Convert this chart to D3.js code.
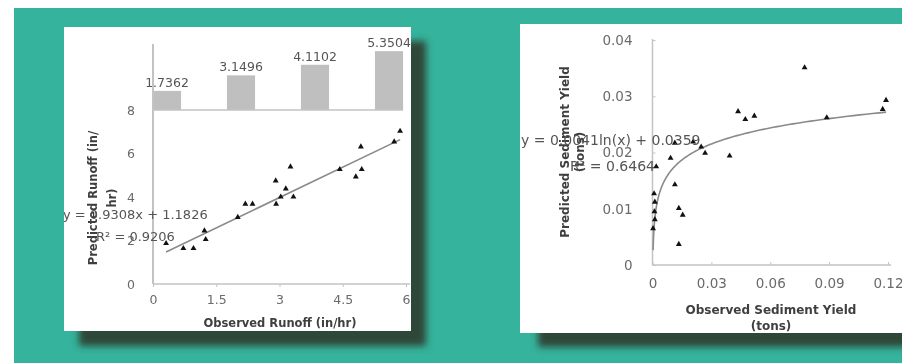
<!DOCTYPE html>
<html><head><meta charset="utf-8">
<script src="https://cdn.jsdelivr.net/npm/d3@7"></script>
<style>html,body{margin:0;padding:0;background:#fff;}svg{display:block;filter:blur(0.5px);}</style>
</head><body>
<svg id="c" width="902" height="363"></svg>
<script>
// ---- data ----
const barCategories = ["1", "2", "3", "4"];
const barValues = [1.7362, 3.1496, 4.1102, 5.3504];

const runoffObserved  = [0.31,0.72,0.96,1.22,1.25,2.01,2.19,2.36,2.91,2.92,3.03,3.15,3.26,3.33,4.43,4.81,4.93,4.95,5.72,5.86];
const runoffPredicted = [1.87,1.64,1.64,2.45,2.05,3.07,3.68,3.68,4.75,3.68,4.01,4.38,5.39,4.01,5.27,4.93,6.31,5.27,6.54,7.03];
const runoffXTicks = [0, 1.5, 3, 4.5, 6];
const runoffXTickLabels = ["0", "1.5", "3", "4.5", "6"];
const runoffYTicks = [0, 2, 4, 6, 8];
const runoffFit = {slope: 0.9308, intercept: 1.1826};
const runoffEq = "y = 0.9308x + 1.1826";
const runoffR2 = "R² = 0.9206";

const sedObserved  = [0.0775,0.119,0.1173,0.0888,0.0436,0.0473,0.0519,0.0114,0.0207,0.0248,0.0268,0.0393,0.0092,0.0019,0.0114,0.0008,0.0012,0.0010,0.0012,0.0003,0.0134,0.0154,0.0134];
const sedPredicted = [0.0351,0.0293,0.0277,0.0262,0.0273,0.0259,0.0265,0.0217,0.0219,0.0210,0.0199,0.0194,0.0190,0.0175,0.0143,0.0127,0.0112,0.0095,0.0081,0.0065,0.0101,0.0089,0.0037];
const sedXTicks = [0, 0.03, 0.06, 0.09, 0.12];
const sedXTickLabels = ["0", "0.03", "0.06", "0.09", "0.12"];
const sedYTicks = [0, 0.01, 0.02, 0.03, 0.04];
const sedYTickLabels = ["0", "0.01", "0.02", "0.03", "0.04"];
const sedFit = {a: 0.0041, b: 0.0359};
const sedEq = "y = 0.0041ln(x) + 0.0359";
const sedR2 = "R² = 0.6464";

// ---- drawing ----
const svg = d3.select("#c");
const TEAL = "#35b39c", SHADOW = "#2f4639", AXIS = "#c3c3c3", TICK = "#6a6a6a", TITLE = "#3f3f3f";
const FONT = "DejaVu Sans, Verdana, sans-serif";

const defs = svg.append("defs");
defs.append("filter").attr("id","sh").attr("x","-20%").attr("y","-20%").attr("width","140%").attr("height","140%")
  .append("feGaussianBlur").attr("stdDeviation", 3.5);
defs.append("clipPath").attr("id","clipL").append("rect").attr("x",64).attr("y",27).attr("width",347).attr("height",304);
defs.append("clipPath").attr("id","clipR").append("rect").attr("x",520).attr("y",24).attr("width",382).attr("height",309);

svg.append("rect").attr("width",902).attr("height",363).attr("fill","#fff");
svg.append("rect").attr("x",14).attr("y",8).attr("width",888).attr("height",355).attr("fill",TEAL);

// shadows
svg.append("rect").attr("x",79).attr("y",41).attr("width",347).attr("height",305).attr("fill",SHADOW).attr("filter","url(#sh)");
svg.append("rect").attr("x",538).attr("y",40).attr("width",400).attr("height",307).attr("fill",SHADOW).attr("filter","url(#sh)");

// panels
svg.append("rect").attr("x",64).attr("y",27).attr("width",347).attr("height",304).attr("fill","#fff");
svg.append("rect").attr("x",520).attr("y",24).attr("width",382).attr("height",309).attr("fill","#fff");

const tri = d3.symbol().type(d3.symbolTriangle).size(15);

// ===== left chart =====
const L = svg.append("g").attr("clip-path","url(#clipL)").attr("font-family",FONT);
const xL = d3.scaleLinear().domain([0,6]).range([153,406]);
const yL = d3.scaleLinear().domain([0,8]).range([284,110]);
const xB = d3.scaleBand().domain(barCategories).range([130,426]).paddingInner(0.62).paddingOuter(0.31);
const yB = d3.scaleLinear().domain([0,6]).range([110,44]);

// bars
L.selectAll("rect.bar").data(barValues).join("rect").attr("class","bar")
  .attr("x",(d,i)=>xB(barCategories[i])).attr("width",xB.bandwidth())
  .attr("y",d=>yB(d)).attr("height",d=>yB(0)-yB(d)).attr("fill","#bfbfbf");
L.selectAll("text.bl").data(barValues).join("text").attr("class","bl")
  .attr("x",(d,i)=>xB(barCategories[i])+xB.bandwidth()/2).attr("y",d=>yB(d)-4)
  .attr("text-anchor","middle").attr("font-size",12.5).attr("fill","#555").text(d=>d.toFixed(4));
L.append("line").attr("x1",152).attr("x2",403).attr("y1",yB(0)).attr("y2",yB(0)).attr("stroke",AXIS).attr("stroke-width",1.5);

// axes
const axXL = L.append("g").attr("transform",`translate(0,${yL(0)})`)
  .call(d3.axisBottom(xL).tickValues(runoffXTicks).tickFormat((d,i)=>runoffXTickLabels[i]).tickSizeInner(3).tickSizeOuter(0).tickPadding(8));
axXL.select(".domain").attr("stroke",AXIS).attr("stroke-width",1.5).attr("d",`M${xL(0)},0H410`);
axXL.selectAll(".tick line").attr("stroke",AXIS);
axXL.selectAll("text").attr("font-size",12.5).attr("fill",TICK).attr("font-family",FONT);

const axYL = L.append("g").attr("transform",`translate(${xL(0)},0)`)
  .call(d3.axisLeft(yL).tickValues(runoffYTicks).tickFormat(d3.format("d")).tickSizeInner(0).tickSizeOuter(0).tickPadding(18));
axYL.select(".domain").attr("stroke",AXIS).attr("stroke-width",2).attr("d",`M0,${yL(0)}V44`);
axYL.selectAll("text").attr("font-size",12.5).attr("fill",TICK).attr("font-family",FONT);

// fit line
const rx = d3.extent(runoffObserved);
L.append("line").attr("x1",xL(rx[0])).attr("y1",yL(runoffFit.slope*rx[0]+runoffFit.intercept))
  .attr("x2",xL(rx[1])).attr("y2",yL(runoffFit.slope*rx[1]+runoffFit.intercept))
  .attr("stroke","#8a8a8a").attr("stroke-width",1.6);

// points
L.selectAll("path.pt").data(runoffObserved).join("path").attr("class","pt")
  .attr("d",tri).attr("transform",(d,i)=>`translate(${xL(d)},${yL(runoffPredicted[i])})`).attr("fill","#111");

// titles
L.append("text").attr("x",280).attr("y",327).attr("text-anchor","middle").attr("font-size",11.5)
  .attr("font-weight","bold").attr("fill",TITLE).text("Observed Runoff (in/hr)");
L.append("text").attr("transform","translate(97,198) rotate(-90)").attr("text-anchor","middle").attr("font-size",11.5)
  .attr("font-weight","bold").attr("fill",TITLE).text("Predicted Runoff (in/");
L.append("text").attr("transform","translate(116,198) rotate(-90)").attr("text-anchor","middle").attr("font-size",11.5)
  .attr("font-weight","bold").attr("fill",TITLE).text("hr)");

// equation
L.append("text").attr("x",63).attr("y",219).attr("font-size",13).attr("fill","#555").text(runoffEq);
L.append("text").attr("x",96).attr("y",241).attr("font-size",13).attr("fill","#555").text(runoffR2);

// ===== right chart =====
const R = svg.append("g").attr("clip-path","url(#clipR)").attr("font-family",FONT);
const xR = d3.scaleLinear().domain([0,0.12]).range([652.5,888]);
const yR = d3.scaleLinear().domain([0,0.04]).range([265,40]);

const axXR = R.append("g").attr("transform",`translate(0,${yR(0)})`)
  .call(d3.axisBottom(xR).tickValues(sedXTicks).tickFormat((d,i)=>sedXTickLabels[i]).tickSizeInner(-3).tickSizeOuter(0).tickPadding(13));
axXR.select(".domain").attr("stroke",AXIS).attr("stroke-width",1.5).attr("d",`M${xR(0)},0H891`);
axXR.selectAll(".tick line").attr("stroke",AXIS);
axXR.selectAll("text").attr("font-size",13.5).attr("fill",TICK).attr("font-family",FONT);

const axYR = R.append("g").attr("transform",`translate(${xR(0)},0)`)
  .call(d3.axisLeft(yR).tickValues(sedYTicks).tickFormat((d,i)=>sedYTickLabels[i]).tickSizeInner(-3).tickSizeOuter(0).tickPadding(20));
axYR.select(".domain").attr("stroke",AXIS).attr("stroke-width",1.5).attr("d",`M0,${yR(0)}V39`);
axYR.selectAll(".tick line").attr("stroke",AXIS);
axYR.selectAll("text").attr("font-size",13.5).attr("fill",TICK).attr("font-family",FONT);

// log fit curve
const sx = d3.extent(sedObserved);
const curveX = d3.range(0, 201).map(i => Math.exp(Math.log(sx[0]) + (Math.log(sx[1]) - Math.log(sx[0])) * i / 200));
R.append("path").datum(curveX).attr("fill","none").attr("stroke","#8a8a8a").attr("stroke-width",1.6)
  .attr("d", d3.line().x(d=>xR(d)).y(d=>yR(Math.max(0, sedFit.a*Math.log(d)+sedFit.b))));

R.selectAll("path.pt").data(sedObserved).join("path").attr("class","pt")
  .attr("d",tri).attr("transform",(d,i)=>`translate(${xR(d)},${yR(sedPredicted[i])})`).attr("fill","#111");

R.append("text").attr("x",771).attr("y",314).attr("text-anchor","middle").attr("font-size",12)
  .attr("font-weight","bold").attr("fill",TITLE).text("Observed Sediment Yield");
R.append("text").attr("x",771).attr("y",330).attr("text-anchor","middle").attr("font-size",12)
  .attr("font-weight","bold").attr("fill",TITLE).text("(tons)");
R.append("text").attr("transform","translate(569,152) rotate(-90)").attr("text-anchor","middle").attr("font-size",12)
  .attr("font-weight","bold").attr("fill",TITLE).text("Predicted Sediment Yield");
R.append("text").attr("transform","translate(584,152) rotate(-90)").attr("text-anchor","middle").attr("font-size",12)
  .attr("font-weight","bold").attr("fill",TITLE).text("(tons)");

R.append("text").attr("x",521).attr("y",145).attr("font-size",14).attr("fill","#555").text(sedEq);
R.append("text").attr("x",570).attr("y",171).attr("font-size",14).attr("fill","#555").text(sedR2);
</script>
</body></html>
